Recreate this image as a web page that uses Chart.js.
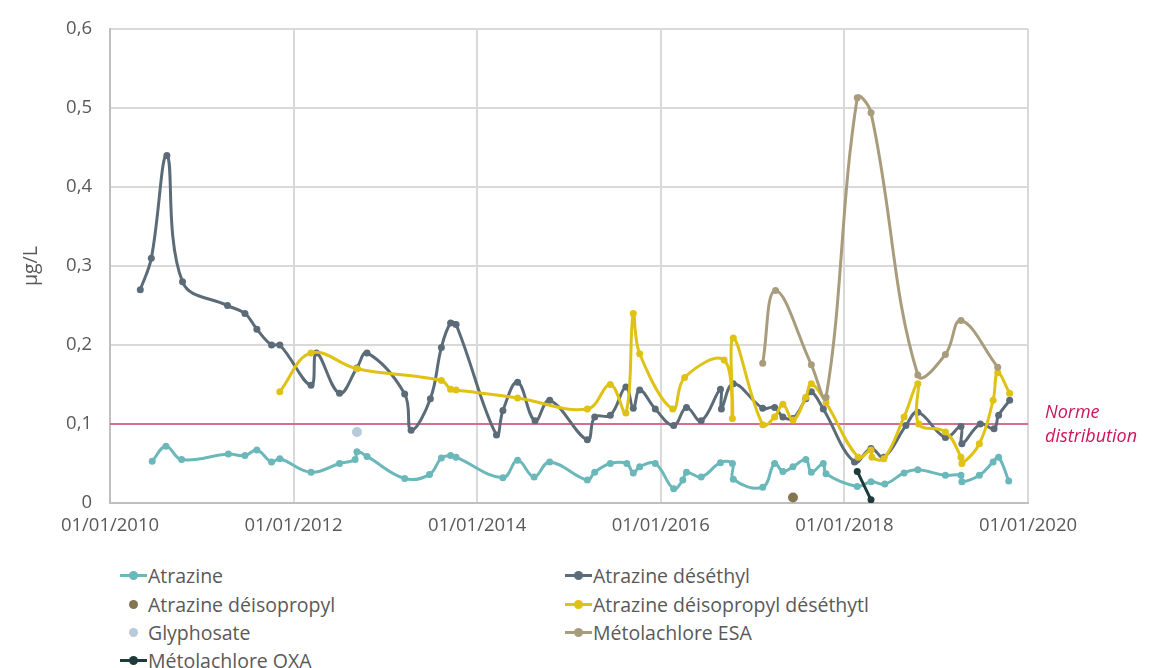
<!DOCTYPE html>
<html>
<head>
<meta charset="utf-8">
<script src="https://cdn.jsdelivr.net/npm/chart.js@4.4.1/dist/chart.umd.min.js"></script>
<style>
  body { margin: 0; background: #fff; font-family: "Open Sans", sans-serif; }
  #wrap { position: relative; width: 1161px; height: 668px; }
  #legend { position: absolute; left: 0; top: 560px; width: 1161px; }
  .item { position: absolute; display: flex; align-items: center; font-size: 19.5px; color: #595959; height: 24px; white-space: nowrap; }
  .swatch { position: relative; width: 27px; height: 24px; margin-right: 1px; }
  .swatch .ln { position: absolute; left: 0; right: 0; top: 10.5px; height: 3px; }
  .swatch .dot { position: absolute; left: 9px; top: 7.5px; width: 9px; height: 9px; border-radius: 50%; }
</style>
</head>
<body>
<div id="wrap">
  <canvas id="chart" width="1161" height="545"></canvas>
  <div id="legend"></div>
</div>
<script>
// années décimales
const yearTicks = [2010, 2012, 2014, 2016, 2018, 2020];

const atrazineX = [2010.46, 2010.61, 2010.78, 2011.29, 2011.47, 2011.6, 2011.76, 2011.85, 2012.19, 2012.5, 2012.67, 2012.69, 2012.8, 2013.21, 2013.48, 2013.61, 2013.71, 2013.77, 2014.28, 2014.44, 2014.62, 2014.79, 2015.2, 2015.28, 2015.45, 2015.63, 2015.7, 2015.77, 2015.94, 2016.14, 2016.24, 2016.28, 2016.44, 2016.65, 2016.78, 2016.79, 2017.11, 2017.24, 2017.33, 2017.44, 2017.58, 2017.64, 2017.77, 2017.8, 2018.14, 2018.29, 2018.44, 2018.65, 2018.8, 2019.1, 2019.27, 2019.28, 2019.47, 2019.62, 2019.68, 2019.79];
const atrazineY = [0.053, 0.072, 0.055, 0.062, 0.06, 0.067, 0.052, 0.056, 0.039, 0.05, 0.055, 0.065, 0.059, 0.031, 0.036, 0.057, 0.06, 0.058, 0.032, 0.054, 0.033, 0.052, 0.029, 0.039, 0.05, 0.05, 0.038, 0.046, 0.05, 0.018, 0.029, 0.039, 0.033, 0.051, 0.05, 0.03, 0.02, 0.05, 0.04, 0.046, 0.055, 0.039, 0.05, 0.037, 0.021, 0.027, 0.024, 0.038, 0.042, 0.035, 0.035, 0.027, 0.035, 0.052, 0.058, 0.028];

const desethylX = [2010.33, 2010.45, 2010.62, 2010.79, 2011.28, 2011.47, 2011.6, 2011.76, 2011.85, 2012.19, 2012.25, 2012.5, 2012.69, 2012.8, 2013.21, 2013.28, 2013.49, 2013.61, 2013.71, 2013.77, 2014.21, 2014.28, 2014.44, 2014.63, 2014.79, 2015.2, 2015.28, 2015.45, 2015.62, 2015.7, 2015.77, 2015.94, 2016.14, 2016.28, 2016.44, 2016.65, 2016.66, 2016.79, 2017.11, 2017.24, 2017.33, 2017.44, 2017.58, 2017.64, 2017.77, 2018.11, 2018.29, 2018.43, 2018.67, 2018.8, 2019.1, 2019.27, 2019.28, 2019.48, 2019.63, 2019.68, 2019.8];
const desethylY = [0.27, 0.31, 0.44, 0.28, 0.25, 0.24, 0.22, 0.2, 0.2, 0.149, 0.19, 0.139, 0.171, 0.19, 0.138, 0.092, 0.132, 0.197, 0.228, 0.226, 0.086, 0.117, 0.153, 0.104, 0.13, 0.08, 0.109, 0.111, 0.147, 0.12, 0.143, 0.119, 0.098, 0.121, 0.104, 0.144, 0.119, 0.151, 0.12, 0.121, 0.109, 0.107, 0.132, 0.141, 0.119, 0.052, 0.069, 0.058, 0.098, 0.115, 0.083, 0.097, 0.075, 0.1, 0.094, 0.111, 0.13];

const deisopropylX = [2017.44];
const deisopropylY = [0.007];

const diaDeaX = [2011.85, 2012.19, 2012.69, 2013.61, 2013.71, 2013.77, 2014.44, 2015.2, 2015.45, 2015.62, 2015.7, 2015.77, 2016.13, 2016.26, 2016.69, 2016.78, 2016.79, 2017.11, 2017.24, 2017.33, 2017.44, 2017.58, 2017.64, 2017.8, 2018.15, 2018.29, 2018.3, 2018.43, 2018.65, 2018.8, 2018.81, 2019.1, 2019.27, 2019.28, 2019.47, 2019.62, 2019.67, 2019.8];
const diaDeaY = [0.141, 0.19, 0.17, 0.155, 0.144, 0.143, 0.133, 0.119, 0.15, 0.114, 0.24, 0.189, 0.119, 0.159, 0.181, 0.107, 0.209, 0.099, 0.109, 0.125, 0.105, 0.134, 0.151, 0.127, 0.058, 0.067, 0.058, 0.056, 0.109, 0.151, 0.1, 0.09, 0.058, 0.05, 0.075, 0.13, 0.165, 0.139];

const glyphosateX = [2012.69];
const glyphosateY = [0.09];

const esaX = [2017.11, 2017.25, 2017.64, 2017.8, 2018.14, 2018.29, 2018.8, 2019.1, 2019.27, 2019.67];
const esaY = [0.177, 0.269, 0.175, 0.134, 0.513, 0.494, 0.162, 0.188, 0.231, 0.172];

const oxaX = [2018.14, 2018.29];
const oxaY = [0.04, 0.004];

const normeX = [2010, 2020];
const normeY = [0.1, 0.1];

function pts(xs, ys) {
    return xs.map((x, i) => ({ x: x, y: ys[i] }));
}

function serie(label, xs, ys, color, order, lineShown) {
    return {
        label: label,
        data: pts(xs, ys),
        borderColor: color,
        backgroundColor: color,
        borderWidth: 3,
        pointRadius: lineShown ? 3.5 : 5,
        pointBorderWidth: 0,
        pointBackgroundColor: color,
        showLine: lineShown,
        tension: 0.4,
        order: order
    };
}

let datasets = [
    serie('Atrazine', atrazineX, atrazineY, '#6bb8bb', 8, true),
    serie('Atrazine déséthyl', desethylX, desethylY, '#5b6b78', 7, true),
    serie('Atrazine déisopropyl', deisopropylX, deisopropylY, '#857552', 6, false),
    serie('Atrazine déisopropyl déséthytl', diaDeaX, diaDeaY, '#dfc214', 5, true),
    serie('Glyphosate', glyphosateX, glyphosateY, '#b7c9db', 4, false),
    serie('Métolachlore ESA', esaX, esaY, '#a99c7d', 3, true),
    serie('Métolachlore OXA', oxaX, oxaY, '#1d3b3a', 2, true),
    {
        label: 'Norme distribution',
        data: pts(normeX, normeY),
        borderColor: '#d4487a',
        borderWidth: 1.5,
        pointRadius: 0,
        showLine: true,
        order: 9,
        isNorme: true
    }
];

const normeLabel = {
    id: 'normeLabel',
    afterDatasetsDraw(chart) {
        let ctx = chart.ctx;
        let y = chart.scales.y.getPixelForValue(normeY[0]);
        ctx.save();
        ctx.fillStyle = '#c8175a';
        ctx.font = 'italic 18px "Open Sans"';
        ctx.textBaseline = 'middle';
        ctx.fillText('Norme', 1045, y - 11);
        ctx.fillText('distribution', 1045, y + 13);
        ctx.restore();
    }
};

const tickFont = { family: 'Open Sans', size: 18.5 };

let ctx = document.getElementById('chart').getContext('2d');
let chart = new Chart(ctx, {
    type: 'scatter',
    data: { datasets: datasets },
    options: {
        responsive: false,
        animation: false,
        layout: { padding: { top: 26, right: 133, left: 0, bottom: 0 } },
        plugins: {
            legend: { display: false },
            tooltip: { enabled: false }
        },
        scales: {
            x: {
                type: 'linear',
                min: 2010,
                max: 2020,
                afterBuildTicks: (s) => { s.ticks = yearTicks.map(v => ({ value: v })); },
                afterFit: (s) => { s.height = 42; },
                ticks: {
                    color: '#595959',
                    font: tickFont,
                    padding: 12,
                    maxRotation: 0,
                    callback: (v) => '01/01/' + v
                },
                grid: { color: '#d9d9d9', lineWidth: 2, drawTicks: false },
                border: { color: '#bfbfbf', width: 2 }
            },
            y: {
                min: 0,
                max: 0.6,
                afterFit: (s) => { s.width = 110; },
                ticks: {
                    stepSize: 0.1,
                    color: '#595959',
                    font: tickFont,
                    padding: 18,
                    callback: (v) => v === 0 ? '0' : v.toFixed(1).replace('.', ',')
                },
                title: {
                    display: true,
                    text: 'µg/L',
                    color: '#595959',
                    font: { family: 'Open Sans', size: 19.5 },
                    padding: { top: 20, bottom: 0 }
                },
                grid: { color: '#d9d9d9', lineWidth: 2, drawTicks: false },
                border: { color: '#bfbfbf', width: 2 }
            }
        }
    },
    plugins: [normeLabel]
});

// légende en deux colonnes : gauche = 0,2,4,6 ; droite = 1,3,5
let legend = document.getElementById('legend');
let colX = [120, 565];
let rowY = [3, 32, 60, 88];
datasets.filter(d => !d.isNorme).forEach((d, i) => {
    let item = document.createElement('div');
    item.className = 'item';
    let col = i === 6 ? 0 : (i % 2);
    let row = i === 6 ? 3 : Math.floor(i / 2);
    item.style.left = colX[col] + 'px';
    item.style.top = rowY[row] + 'px';
    let sw = document.createElement('span');
    sw.className = 'swatch';
    if (d.showLine) {
        let ln = document.createElement('span');
        ln.className = 'ln';
        ln.style.background = d.borderColor;
        sw.appendChild(ln);
    }
    let dot = document.createElement('span');
    dot.className = 'dot';
    dot.style.background = d.borderColor;
    sw.appendChild(dot);
    item.appendChild(sw);
    item.appendChild(document.createTextNode(d.label));
    legend.appendChild(item);
});
</script>
</body>
</html>
